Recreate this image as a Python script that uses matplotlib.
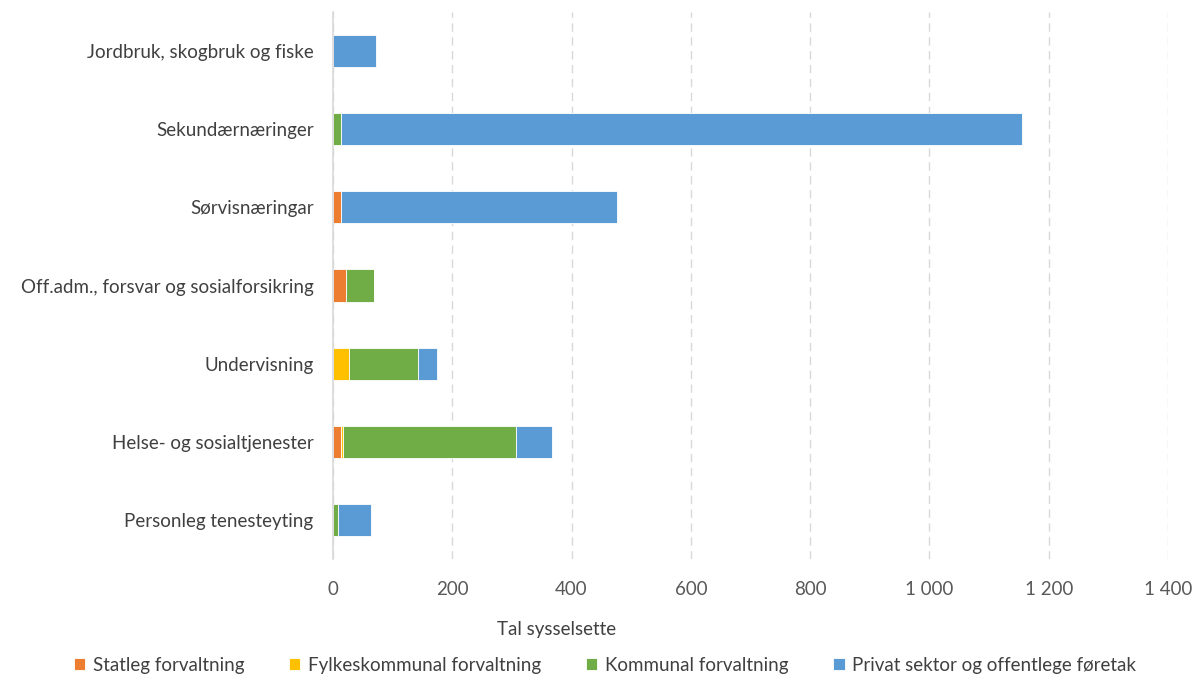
import matplotlib
matplotlib.use("Agg")
import matplotlib.pyplot as plt
import numpy as np

categories = ["Jordbruk, skogbruk og fiske", "Sekundærnæringer", "Sørvisnæringar",
              "Off.adm., forsvar og sosialforsikring", "Undervisning",
              "Helse- og sosialtjenester", "Personleg tenesteyting"]
statleg = [0, 0, 14, 22, 0, 13, 0]
fylke = [0, 0, 0, 0, 27, 4, 0]
kommunal = [0, 14, 0, 47, 116, 289, 8]
privat = [72, 1142, 463, 0, 32, 61, 56]
series_names = ["Statleg forvaltning", "Fylkeskommunal forvaltning",
                "Kommunal forvaltning", "Privat sektor og offentlege føretak"]
colors = ["#ED7D31", "#FFC000", "#70AD47", "#5B9BD5"]
xticks = [0, 200, 400, 600, 800, 1000, 1200, 1400]
xticklabels = ["0", "200", "400", "600", "800", "1 000", "1 200", "1 400"]

plt.rcParams['font.family'] = ['Lato', 'DejaVu Sans']
fig = plt.figure(figsize=(11.98, 6.77), dpi=100)
ax = fig.add_axes([333/1198, 1-559/677, (1168-333)/1198, (559-12)/677])

y = np.arange(len(categories))
left = np.zeros(len(categories))
for vals, name, c in zip([statleg, fylke, kommunal, privat], series_names, colors):
    ax.barh(y, vals, left=left, height=0.41, color=c, label=name,
            edgecolor="white", linewidth=0.6)
    left += np.array(vals)

ax.set_ylim(len(categories)-0.5, -0.5)
ax.set_xlim(0, 1400)
ax.set_yticks(y)
ax.set_yticklabels(categories, fontsize=13.5, color="#404040")
ax.set_xticks(xticks)
ax.set_xticklabels(xticklabels, fontsize=13.5, color="#595959")
ax.tick_params(axis='both', length=0)
ax.tick_params(axis='x', pad=16)
ax.tick_params(axis='y', pad=14)
for s in ["top", "right", "bottom"]:
    ax.spines[s].set_visible(False)
ax.spines["left"].set_color("#D9D9D9")
ax.spines["left"].set_linewidth(1.2)
ax.set_axisbelow(True)
ax.xaxis.grid(True, color="#D9D9D9", linestyle=(0, (6, 4)), linewidth=1.0)

fig.text(557/1198, 1-630/677, "Tal sysselsette", ha="center", va="center",
         fontsize=13.5, color="#404040")

handles, labels = ax.get_legend_handles_labels()
fig.legend(handles, labels, loc="center", bbox_to_anchor=(0.505, 1-665/677),
           ncol=4, frameon=False, fontsize=13.5, handlelength=0.6, handleheight=0.6,
           columnspacing=2.4, handletextpad=0.4, labelcolor="#404040")

fig.savefig("out.png", dpi=100)
